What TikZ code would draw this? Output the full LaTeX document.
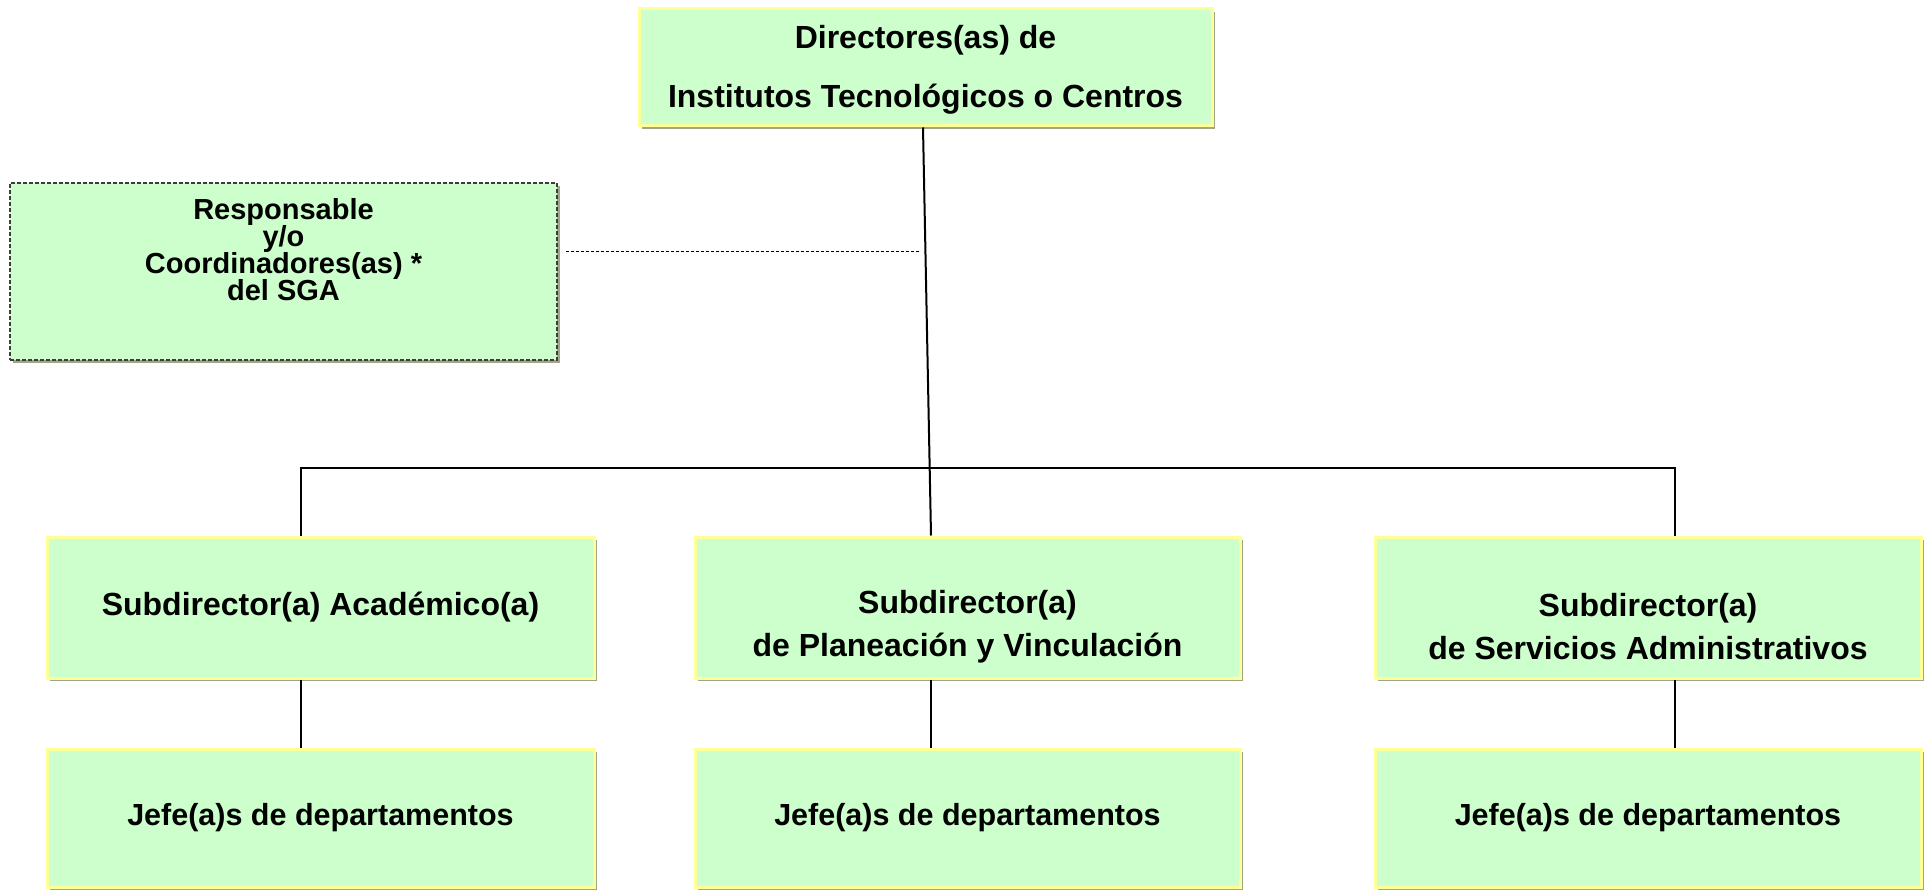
\documentclass[tikz,border=0pt]{standalone}
\usepackage{fontspec}
\setmainfont{Liberation Sans}
\usetikzlibrary{shadows}
\setlength{\lineskiplimit}{-50pt}
\definecolor{boxfill}{HTML}{CCFFCC}
\definecolor{boxedge}{HTML}{FFFF99}
\definecolor{shadowc}{RGB}{160,166,136}
\definecolor{dashedge}{RGB}{60,60,60}
\tikzset{
  box/.style={rectangle, fill=boxfill, draw=boxedge, line width=3pt, inner sep=0pt,
    drop shadow={shadow xshift=3pt, shadow yshift=-3pt, fill=shadowc, opacity=1}},
  sgabox/.style={rectangle, fill=boxfill, draw=dashedge, line width=1.3pt, dash pattern=on 4pt off 2pt, inner sep=0pt,
    drop shadow={shadow xshift=3pt, shadow yshift=-3pt, fill=shadowc, opacity=1}},
  lbl/.style={align=center, font=\fontsize{30.5}{31}\selectfont\bfseries, inner sep=0pt},
  conn/.style={draw=black, line width=2pt},
  dotconn/.style={draw=black, line width=1pt, dash pattern=on 3pt off 2pt}
}
\begin{document}
\begin{tikzpicture}[x=1pt,y=-1pt]
\useasboundingbox (0,0) rectangle (1928,890);
% boxes
\node[box, minimum width=573pt, minimum height=117pt] (dir) at (925.5,67.5) {};
\node[sgabox, minimum width=547pt, minimum height=177pt] (sga) at (283.5,271.5) {};
\node[box, minimum width=547pt, minimum height=141pt] (s1) at (320.5,607.5) {};
\node[box, minimum width=545pt, minimum height=141pt] (s2) at (967.5,607.5) {};
\node[box, minimum width=546pt, minimum height=141pt] (s3) at (1648,607.5) {};
\node[box, minimum width=547pt, minimum height=138pt] (j1) at (320.5,818) {};
\node[box, minimum width=545pt, minimum height=138pt] (j2) at (967.5,818) {};
\node[box, minimum width=546pt, minimum height=138pt] (j3) at (1648,818) {};
% labels
\node[lbl, font=\fontsize{32}{59}\selectfont\bfseries] (dirt) at (925.5,70) {Directores(as) de\\Institutos Tecnológicos o Centros};
\node[lbl, font=\fontsize{29}{27}\selectfont\bfseries] (sgat) at (283.5,250) {Responsable\\y/o\\Coordinadores(as) *\\del SGA};
\node[lbl, font=\fontsize{32}{33}\selectfont\bfseries] (s1t) at (320.5,607.5) {Subdirector(a) Académico(a)};
\node[lbl, font=\fontsize{32}{43}\selectfont\bfseries] (s2t) at (967.5,627) {Subdirector(a)\\de Planeación y Vinculación};
\node[lbl, font=\fontsize{32}{43}\selectfont\bfseries] (s3t) at (1648,627) {Subdirector(a)\\de Servicios Administrativos};
\node[lbl] (j1t) at (320.5,818) {Jefe(a)s de departamentos};
\node[lbl] (j2t) at (967.5,818) {Jefe(a)s de departamentos};
\node[lbl] (j3t) at (1648,818) {Jefe(a)s de departamentos};
% connectors
\coordinate (hl) at (301,468);
\coordinate (hr) at (1675,468);
\coordinate (dl) at (566,252);
\coordinate (dr) at (920,252);
\draw[conn] ([xshift=-2.5pt]dir.south) -- ([xshift=-36.5pt]s2.north);
\draw[conn] (s1.north -| hl) -- (hl) -- (hr) -- (s3.north -| hr);
\draw[conn] (s1.south -| hl) -- (j1.north -| hl);
\draw[conn] ([xshift=-36.5pt]s2.south) -- ([xshift=-36.5pt]j2.north);
\draw[conn] (s3.south -| hr) -- (j3.north -| hr);
\draw[dotconn] (dl) -- (dr);
\end{tikzpicture}
\end{document}
